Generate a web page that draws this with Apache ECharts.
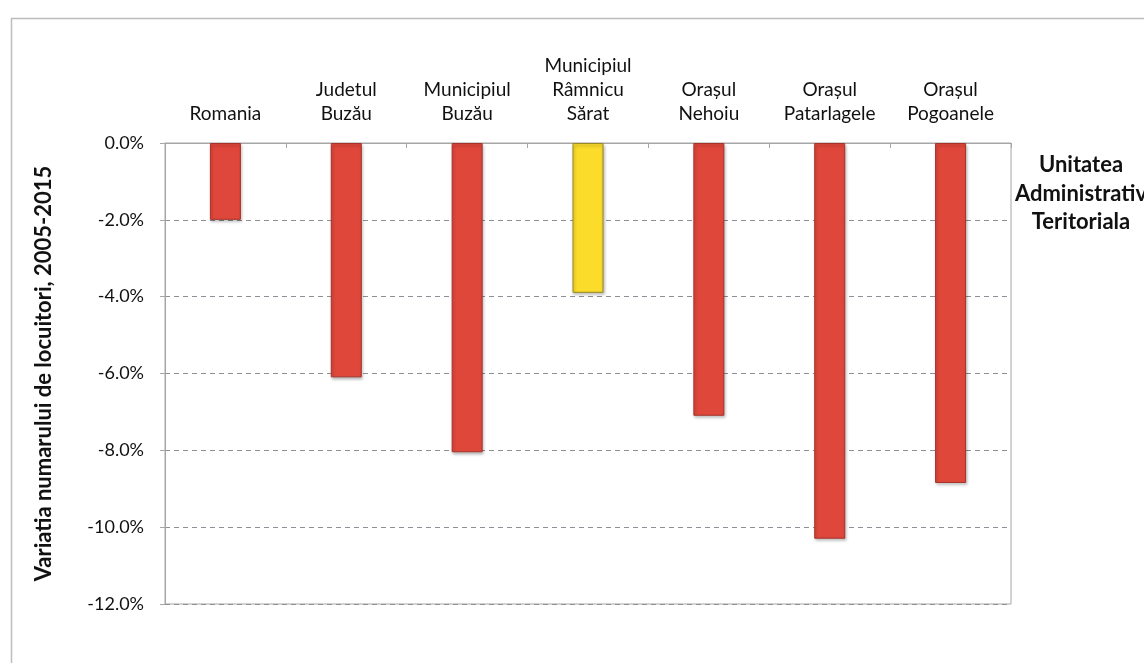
<!DOCTYPE html>
<html>
<head>
<meta charset="utf-8">
<script src="https://cdn.jsdelivr.net/npm/echarts@6/dist/echarts.min.js"></script>
<style>
html,body{margin:0;padding:0;background:#fff;}
#chart{width:1144px;height:663px;}
</style>
</head>
<body>
<div id="chart"></div>
<script>
const categories = ['Romania', 'Judetul\nBuzău', 'Municipiul\nBuzău', 'Municipiul\nRâmnicu\nSărat', 'Orașul\nNehoiu', 'Orașul\nPatarlagele', 'Orașul\nPogoanele'];
const values = [-2.0, -6.1, -8.05, -3.9, -7.1, -10.3, -8.85];
const highlighted = ['Municipiul\nRâmnicu\nSărat'];
const yTicks = [0, -2, -4, -6, -8, -10, -12];
const yTitle = 'Variatia numarului de locuitori, 2005-2015';
const sideTitle = ['Unitatea', 'Administrativ', 'Teritoriala'];

const chart = echarts.init(document.getElementById('chart'));
const font = 'Lato, "Open Sans", sans-serif';
chart.setOption({
  animation: false,
  backgroundColor: '#fff',
  textStyle: { fontFamily: font },
  grid: { left: 165, right: 133, top: 143, bottom: 59, show: true, borderColor: '#a6a6a6', borderWidth: 1 },
  xAxis: {
    type: 'category',
    position: 'top',
    data: categories,
    axisLine: { show: true, lineStyle: { color: '#a6a6a6', width: 1 } },
    axisTick: { show: true, inside: true, length: 5, alignWithLabel: false, lineStyle: { color: '#a6a6a6' } },
    axisLabel: { color: '#111', fontSize: 19, lineHeight: 24, margin: 17, fontFamily: font }
  },
  yAxis: {
    type: 'value',
    min: Math.min(...yTicks),
    max: Math.max(...yTicks),
    interval: 2,
    name: yTitle,
    nameLocation: 'middle',
    nameRotate: 90,
    nameGap: 110,
    nameTextStyle: { fontSize: 22, fontWeight: 'bold', color: '#111', fontFamily: font },
    axisLine: { show: true, lineStyle: { color: '#a6a6a6' } },
    axisTick: { show: true, length: 5, lineStyle: { color: '#a6a6a6' } },
    axisLabel: { color: '#111', fontSize: 18, margin: 21, formatter: v => v.toFixed(1) + '%' },
    splitLine: { show: true, lineStyle: { color: '#8a9096', type: [5, 4], width: 1 } }
  },
  series: [{
    type: 'bar',
    data: values.map((v, i) => ({
      value: v,
      itemStyle: highlighted.includes(categories[i])
        ? { color: '#fbdc2a', borderColor: '#9a8a20', borderWidth: 1 }
        : { color: '#e0473b', borderColor: '#a8332a', borderWidth: 1 }
    })),
    barWidth: 31,
    itemStyle: { shadowColor: 'rgba(0,0,0,0.3)', shadowBlur: 3, shadowOffsetX: 1, shadowOffsetY: 2 }
  }],
  graphic: [
    { type: 'rect', left: 9, top: 16, shape: { width: 1200, height: 700 }, style: { fill: 'none', stroke: '#bdbdbd', lineWidth: 1.5 }, silent: true, z: -1 },
    { type: 'text', x: 1081, y: 165, style: { text: sideTitle[0], font: 'bold 22px ' + font, fill: '#111', align: 'center', verticalAlign: 'middle' } },
    { type: 'text', x: 1081, y: 194, style: { text: sideTitle[1], font: 'bold 22px ' + font, fill: '#111', align: 'center', verticalAlign: 'middle' } },
    { type: 'text', x: 1081, y: 222, style: { text: sideTitle[2], font: 'bold 22px ' + font, fill: '#111', align: 'center', verticalAlign: 'middle' } }
  ]
});
</script>
</body>
</html>
